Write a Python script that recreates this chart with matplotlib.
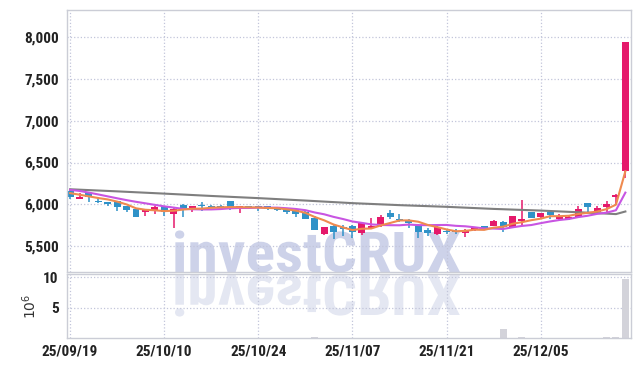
import matplotlib
matplotlib.use("Agg")
import matplotlib.pyplot as plt
import numpy as np
import pandas as pd
from matplotlib.textpath import TextPath
from matplotlib.patches import PathPatch
from matplotlib.font_manager import FontProperties
from matplotlib.transforms import Affine2D

# ---------------- données ----------------
dates = ["25/09/19", "25/09/22", "25/09/23", "25/09/24", "25/09/25", "25/09/26",
         "25/09/29", "25/09/30", "25/10/01", "25/10/02", "25/10/10",
         "25/10/13", "25/10/14", "25/10/15", "25/10/16", "25/10/17",
         "25/10/20", "25/10/21", "25/10/22", "25/10/23", "25/10/24",
         "25/10/27", "25/10/28", "25/10/29", "25/10/30", "25/10/31",
         "25/11/03", "25/11/04", "25/11/05", "25/11/06", "25/11/07",
         "25/11/10", "25/11/11", "25/11/12", "25/11/13", "25/11/14",
         "25/11/17", "25/11/18", "25/11/19", "25/11/20", "25/11/21",
         "25/11/24", "25/11/25", "25/11/26", "25/11/27", "25/11/28",
         "25/12/01", "25/12/02", "25/12/03", "25/12/04", "25/12/05",
         "25/12/08", "25/12/09", "25/12/10", "25/12/11", "25/12/12",
         "25/12/15", "25/12/16", "25/12/17", "25/12/18"]

opens = [6161, 6069, 6141, 6033, 6022, 6038, 5974, 5946, 5910, 5926,
         5974, 5886, 5994, 5955, 5994, 5982, 5974, 6042, 5943, 5974,
         5974, 5974, 5955, 5946, 5926, 5914, 5835, 5644, 5735, 5727,
         5745, 5655, 5722, 5735, 5902, 5830, 5795, 5735, 5695, 5643,
         5680, 5680, 5655, 5695, 5735, 5746, 5790, 5727, 5806, 5914,
         5845, 5907, 5823, 5830, 5854, 6014, 5914, 5962, 6093, 6397]
highs = [6175, 6137, 6150, 6086, 6030, 6045, 5980, 5950, 5940, 5975,
         5980, 5950, 6000, 5985, 6026, 5990, 5990, 6045, 5980, 5980,
         5980, 5980, 5960, 5950, 5930, 5918, 5855, 5727, 5750, 5755,
         5750, 5790, 5835, 5871, 5934, 5888, 5820, 5760, 5715, 5740,
         5705, 5700, 5700, 5727, 5740, 5810, 5795, 5862, 6054, 5914,
         5900, 5910, 5880, 5870, 5975, 6014, 5975, 6035, 6120, 7945]
lows = [6066, 6060, 6030, 6015, 5982, 5922, 5910, 5850, 5862, 5886,
        5862, 5719, 5850, 5910, 5922, 5950, 5950, 5930, 5900, 5940,
        5920, 5930, 5920, 5886, 5845, 5823, 5695, 5630, 5587, 5615,
        5600, 5635, 5715, 5730, 5827, 5785, 5720, 5600, 5615, 5635,
        5640, 5640, 5610, 5675, 5700, 5746, 5663, 5727, 5755, 5835,
        5830, 5830, 5810, 5815, 5850, 5910, 5900, 5900, 5994, 6317]
closes = [6093, 6093, 6086, 6022, 5998, 5962, 5926, 5854, 5934, 5967,
          5914, 5946, 5926, 5982, 5974, 5966, 5970, 5943, 5974, 5966,
          5955, 5943, 5926, 5914, 5883, 5823, 5695, 5727, 5663, 5710,
          5663, 5775, 5743, 5847, 5854, 5815, 5779, 5663, 5655, 5727,
          5672, 5670, 5687, 5727, 5715, 5803, 5727, 5862, 5823, 5835,
          5895, 5875, 5862, 5847, 5943, 5962, 5954, 6006, 6113, 7940]
# volume en millions
volumes = [0.04, 0.03, 0.03, 0.02, 0.03, 0.03, 0.03, 0.04, 0.03, 0.03,
           0.03, 0.05, 0.03, 0.02, 0.03, 0.02, 0.02, 0.03, 0.02, 0.02,
           0.02, 0.02, 0.02, 0.03, 0.03, 0.05, 0.18, 0.05, 0.04, 0.03,
           0.03, 0.04, 0.03, 0.04, 0.03, 0.02, 0.02, 0.03, 0.03, 0.03,
           0.02, 0.02, 0.03, 0.03, 0.03, 0.05, 1.45, 0.06, 0.15, 0.05,
           0.04, 0.03, 0.03, 0.03, 0.05, 0.04, 0.04, 0.12, 0.18, 9.6]

# début des moyennes mobiles (historique hors graphique)
ma5_debut = [6134, 6115, 6095, 6075]
ma10_debut = [6173, 6160, 6140, 6118, 6095, 6072, 6050, 6030, 6012]
ma60_idx = [0, 5, 10, 15, 20, 25, 30, 35, 40, 45, 50, 55, 58, 59]
ma60_val = [6180, 6155, 6128, 6100, 6074, 6045, 6014, 5990, 5970, 5945, 5925, 5900, 5883, 5914]

tick_idx = [0, 10, 20, 30, 40, 50]

############ styles ############
rouge = '#e5196b'
bleu = '#2f92c8'
grille = '#c2c5da'
bord = '#cbcdd6'
plt.rcParams['font.family'] = ['Roboto Condensed', 'DejaVu Sans']

x = np.arange(len(closes))
cl = pd.Series(closes, dtype=float)
ma5 = cl.rolling(5).mean().values
ma5[:len(ma5_debut)] = ma5_debut
ma10 = cl.rolling(10).mean().values
ma10[:len(ma10_debut)] = ma10_debut

fig = plt.figure(figsize=(6.39, 3.66), dpi=100)
ax = fig.add_axes([0.105, 0.2568, 0.8825, 0.7159])
axv = fig.add_axes([0.105, 0.0765, 0.8825, 0.1749], sharex=ax)

for a in (ax, axv):
    a.set_facecolor('none')
    for s in a.spines.values():
        s.set_color(bord)
        s.set_linewidth(1)
    a.grid(True, linestyle=':', color=grille, linewidth=0.9)
    a.set_axisbelow(True)
    a.tick_params(length=0, labelsize=11, colors='#222222')

# bougies
for i in x:
    o, h, l, c = opens[i], highs[i], lows[i], closes[i]
    col = rouge if c >= o else bleu
    ax.vlines(i, l, h, color=col, linewidth=1.1, zorder=2)
    hauteur = max(abs(c - o), 12)
    ax.bar(i, hauteur, bottom=min(o, c), width=0.74, color=col, zorder=2)

ax.plot(ma60_idx, ma60_val, color='#7f7f7f', linewidth=1.5, zorder=3)
ax.plot(x, ma10, color='#c855e2', linewidth=1.5, zorder=3)
ax.plot(x, ma5, color='#ef8a4f', linewidth=1.5, zorder=3)

ax.set_ylim(5190, 8325)
ax.set_xlim(-0.32, 59.6)
ax.set_yticks([5500, 6000, 6500, 7000, 7500, 8000])
ax.set_yticklabels([f"{v:,}" for v in [5500, 6000, 6500, 7000, 7500, 8000]], fontweight='semibold')
ax.tick_params(axis='y', pad=6)
ax.tick_params(axis='x', labelbottom=False)

# volume
axv.bar(x, volumes, width=0.74, color='#d3d3da', zorder=2)
axv.set_ylim(0, 10.5)
axv.set_yticks([5, 10])
axv.set_yticklabels(['5', '10'], fontweight='semibold')
axv.set_xticks(tick_idx)
axv.set_xticklabels([dates[i] for i in tick_idx], fontweight='semibold')
axv.tick_params(axis='y', pad=6)
axv.tick_params(axis='x', pad=5)
axv.set_ylabel(r"$10^6$", fontsize=10, color='#333333')
axv.yaxis.set_label_coords(-0.05, 0.5)

# filigrane avec reflet
fp = FontProperties(family='Roboto Condensed', weight='bold', style='normal')
tp = TextPath((0, 0), "investCRUX", size=100, prop=fp)
ext = tp.get_extents()
cap = TextPath((0, 0), "X", size=100, prop=fp).get_extents().height
sx = 285 / ext.width
sy = 40 / cap
haut = Affine2D().translate(-ext.x0, 0).scale(sx, sy).translate(175, 366 - 272)
bas = Affine2D().translate(-ext.x0, 0).scale(sx, -sy).translate(175, 366 - 275)
fig.add_artist(PathPatch(tp, transform=haut, facecolor='#cdd2e9', edgecolor='none', zorder=-1))
fig.add_artist(PathPatch(tp, transform=bas, facecolor='#e4e7f2', edgecolor='none', zorder=-1))

fig.savefig('out.png', dpi=100)
